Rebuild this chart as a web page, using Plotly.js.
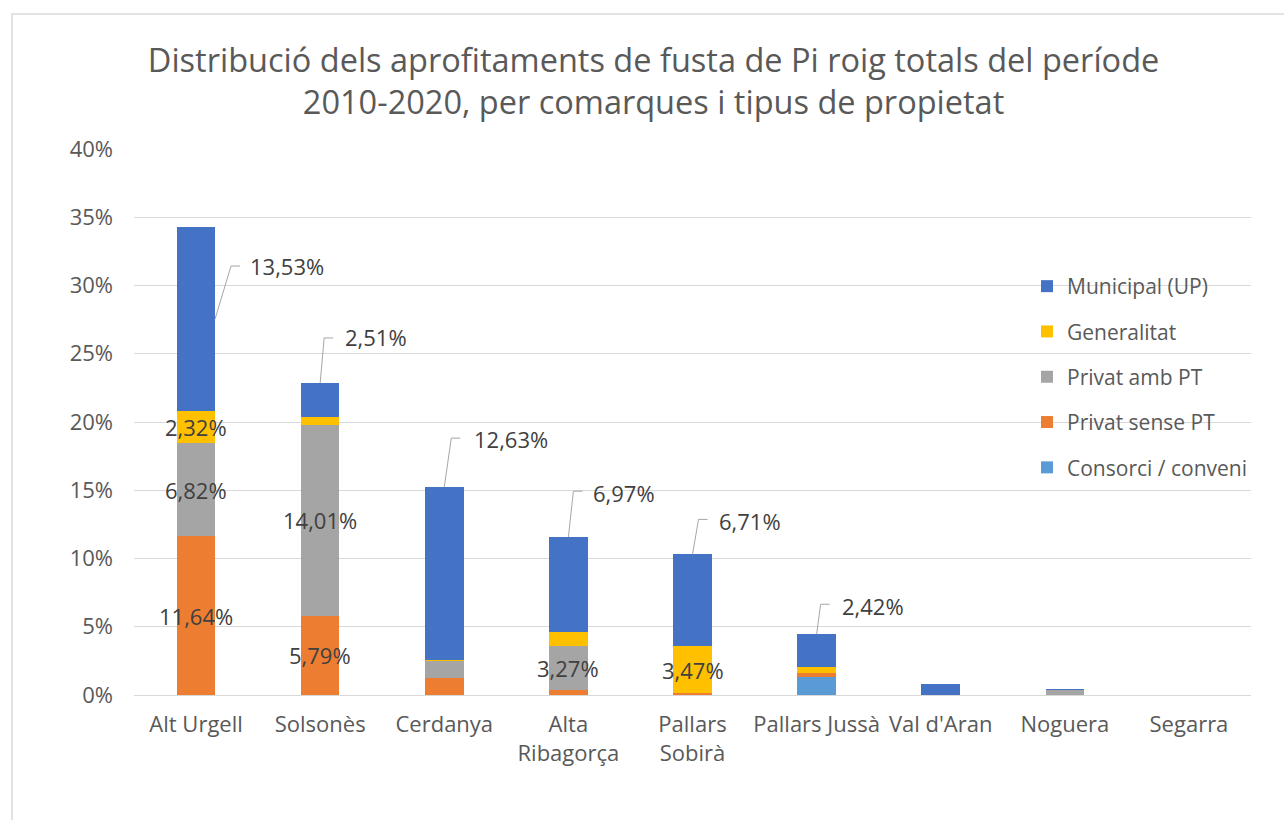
<!DOCTYPE html>
<html>
<head>
<meta charset="utf-8">
<script src="https://cdn.plot.ly/plotly-3.0.1.min.js"></script>
<style>html,body{margin:0;padding:0;background:#fff;}#chart{width:1284px;height:840px;}</style>
</head>
<body>
<div id="chart"></div>
<script>
// ---- Data (percent of total) ----
const categories = ['Alt Urgell', 'Solsonès', 'Cerdanya', 'Alta Ribagorça', 'Pallars Sobirà', 'Pallars Jussà', "Val d'Aran", 'Noguera', 'Segarra'];
const tickLabels = ['Alt Urgell', 'Solsonès', 'Cerdanya', 'Alta<br>Ribagorça', 'Pallars<br>Sobirà', 'Pallars Jussà', "Val d'Aran", 'Noguera', 'Segarra'];
const consorci    = [0, 0, 0, 0, 0, 1.32, 0, 0, 0];
const privatSense = [11.64, 5.79, 1.27, 0.34, 0.12, 0.28, 0, 0, 0];
const privatAmb   = [6.82, 14.01, 1.23, 3.27, 0, 0, 0, 0.36, 0];
const generalitat = [2.32, 0.55, 0.10, 0.98, 3.47, 0.43, 0, 0, 0];
const municipal   = [13.53, 2.51, 12.63, 6.97, 6.71, 2.42, 0.78, 0.06, 0];
const seriesNames = ['Consorci / conveni', 'Privat sense PT', 'Privat amb PT', 'Generalitat', 'Municipal (UP)'];

// ---- Styles ----
const seriesColors = ['#5B9BD5', '#ED7D31', '#A5A5A5', '#FFC000', '#4472C4'];
const FONT = 'Open Sans, Noto Sans, sans-serif';
const TXT = '#595959';
const LBL = '#404040';
const FS = 22;
const W = 1284, H = 840, ML = 134, MR = 33, MT = 149, MB = 145;

const seriesValues = [consorci, privatSense, privatAmb, generalitat, municipal];
const fmt = v => v.toFixed(2).replace('.', ',') + '%';

const traces = seriesValues.map((vals, i) => ({
  type: 'bar', x: categories, y: vals, name: seriesNames[i],
  legendgroup: 'g' + i, legendrank: seriesValues.length - i,
  marker: {color: seriesColors[i], line: {width: 0}},
  hoverinfo: 'x+y+name'
}));

const annotations = [];
const shapes = [];
// inside labels (centered in segment) for non-municipal series >= 2%
categories.forEach((c, ci) => {
  let base = 0;
  for (let si = 0; si < seriesValues.length - 1; si++) {
    const v = seriesValues[si][ci];
    if (v >= 2) {
      annotations.push({x: c, y: base + v / 2, xref: 'x', yref: 'y', text: fmt(v), showarrow: false,
        font: {family: FONT, size: FS, color: LBL}});
    }
    base += v;
  }
});

// callout labels for Municipal (UP): pixel offsets of leader (style only)
const callouts = {
  0: {mode: 'side', ex: 16, ey: 53, tx: 33, ty: 53},
  1: {mode: 'top', ex: 4, ey: 45, tx: 23, ty: 46},
  2: {mode: 'top', ex: 7, ey: 49, tx: 28, ty: 48},
  3: {mode: 'top', ex: 5, ey: 46, tx: 23, ty: 44},
  4: {mode: 'top', ex: 6, ey: 35, tx: 24, ty: 33},
  5: {mode: 'top', ex: 4, ey: 30, tx: 23, ty: 28}
};
Object.keys(callouts).forEach(k => {
  const ci = +k, cfg = callouts[k];
  const below = consorci[ci] + privatSense[ci] + privatAmb[ci] + generalitat[ci];
  const v = municipal[ci];
  const ay = cfg.mode === 'side' ? below + v / 2 : below + v;
  const x0 = cfg.mode === 'side' ? 19 : 0;
  shapes.push({type: 'path', xref: 'x', yref: 'y', xsizemode: 'pixel', ysizemode: 'pixel',
    xanchor: ci, yanchor: ay,
    path: `M ${x0},0 L ${x0 + cfg.ex},${cfg.ey} L ${x0 + cfg.ex + 9},${cfg.ey}`,
    line: {color: '#A6A6A6', width: 1}});
  annotations.push({x: categories[ci], y: ay, xref: 'x', yref: 'y', text: fmt(v), showarrow: false,
    xanchor: 'left', yanchor: 'middle', xshift: x0 + cfg.tx, yshift: cfg.ty,
    font: {family: FONT, size: FS, color: LBL}});
});

// outer chart border
const pw = W - ML - MR, ph = H - MT - MB;
shapes.push({type: 'path', xref: 'paper', yref: 'paper', layer: 'below',
  path: `M ${(12 - ML) / pw},${(H - MB + 20 - H) / ph} L ${(12 - ML) / pw},${(H - MB - 14) / ph} L ${(W + 20 - ML) / pw},${(H - MB - 14) / ph}`,
  line: {color: '#D9D9D9', width: 1.5}});

const layout = {
  width: W, height: H,
  margin: {l: ML, r: MR, t: MT, b: MB, pad: 0},
  paper_bgcolor: '#fff', plot_bgcolor: '#fff',
  barmode: 'stack', bargap: 0.69,
  font: {family: FONT, color: TXT},
  title: {text: 'Distribució dels aprofitaments de fusta de Pi roig totals del període<br>2010-2020, per comarques i tipus de propietat',
    font: {family: FONT, size: 32.5, color: TXT}, xref: 'container', x: 0.509, xanchor: 'center',
    yref: 'container', y: 1 - 72 / H, yanchor: 'top'},
  xaxis: {type: 'category', tickvals: categories, ticktext: tickLabels, tickfont: {family: FONT, size: FS, color: TXT},
    showgrid: false, showline: true, linecolor: '#D9D9D9', linewidth: 1, ticks: '', ticklen: 0,
    ticklabelstandoff: 10, automargin: false},
  yaxis: {range: [0, 40], dtick: 5, ticksuffix: '%', tickfont: {family: FONT, size: FS, color: TXT},
    showgrid: true, gridcolor: '#D9D9D9', gridwidth: 1, zeroline: false, showline: false, ticks: '',
    ticklabelstandoff: 20, automargin: false},
  legend: {x: (1027 - ML) / pw, xanchor: 'left', y: (H - MB - 266) / ph, yanchor: 'top',
    bgcolor: 'rgba(0,0,0,0)', font: {family: FONT, size: 21, color: TXT},
    traceorder: 'grouped', tracegroupgap: 15, itemwidth: 30},
  annotations: annotations,
  shapes: shapes
};

Plotly.newPlot('chart', traces, layout, {displayModeBar: false, staticPlot: true});
</script>
</body>
</html>
